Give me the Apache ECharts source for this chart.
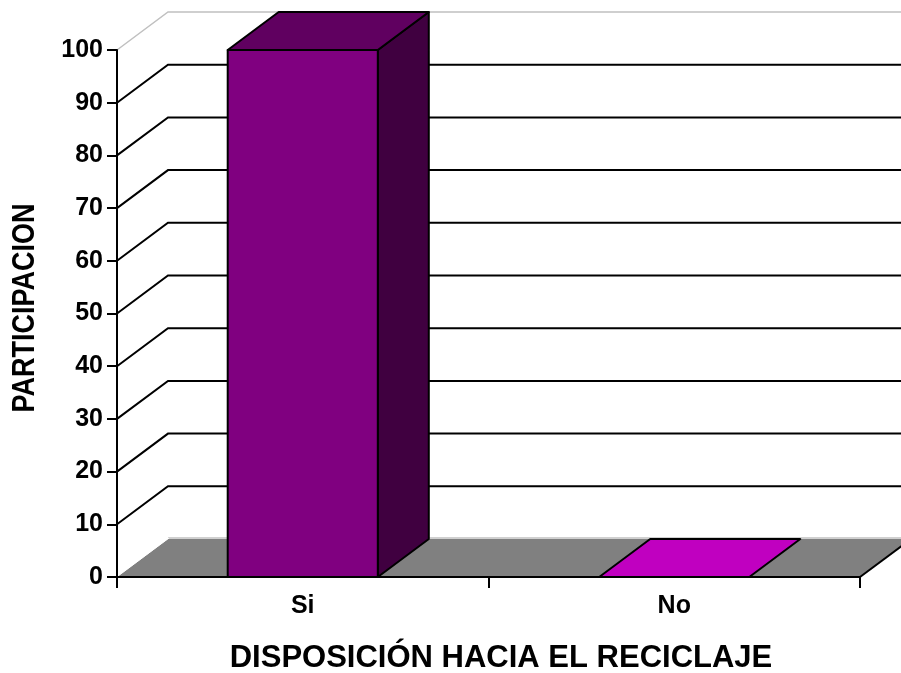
<!DOCTYPE html>
<html>
<head>
<meta charset="utf-8">
<script src="https://cdn.jsdelivr.net/npm/echarts@6/dist/echarts.min.js"></script>
<style>
  html, body { margin: 0; padding: 0; background: #fff; }
  #main { width: 901px; height: 673px; }
</style>
</head>
<body>
<div id="main"></div>
<script>
// datos del grafico
const categories = ['Si', 'No'];
const participacion = [100, 0];
const yTicks = [10, 20, 30, 40, 50, 60, 70, 80, 90];

// colores de cada barra (frente, tapa, lado)
const barColors = [
  { front: '#800080', top: '#600060', side: '#400040' },
  { front: '#c000c0', top: '#c000c0', side: '#900090' }
];
const FONT = '"Liberation Sans", Arial, sans-serif';
const DX = 51, DY = -38; // profundidad 3d

const myChart = echarts.init(document.getElementById('main'));

// lineas de division en pared lateral y fondo
function renderWalls(params, api) {
  const cs = params.coordSys;
  const y = api.coord([0, api.value(1)])[1];
  const gx = cs.x, right = cs.x + cs.width + DX + 20;
  return {
    type: 'polyline',
    shape: { points: [[gx, y], [gx + DX, y + DY], [right, y + DY]] },
    style: { stroke: '#000', lineWidth: 2, fill: null }
  };
}

function renderFloor(params, api) {
  const cs = params.coordSys;
  const top = api.coord([0, 100])[1];
  const by = api.coord([0, 0])[1];
  const gx = cs.x, gr = cs.x + cs.width;
  return {
    type: 'group',
    children: [
      // borde superior de las paredes
      { type: 'polyline', shape: { points: [[gx, top], [gx + DX, top + DY], [gr + DX + 20, top + DY]] },
        style: { stroke: '#c0c0c0', lineWidth: 1.5, fill: null } },
      { type: 'polygon', shape: { points: [[gx, by], [gx + DX, by + DY], [gr + DX, by + DY], [gr, by]] },
        style: { fill: '#808080' } },
      { type: 'line', shape: { x1: gx + DX, y1: by + DY - 1, x2: gr + DX + 20, y2: by + DY - 1 },
        style: { stroke: '#a0a0a0', lineWidth: 1 } },
      { type: 'line', shape: { x1: gx + 1, y1: by - 1, x2: gx + DX + 1, y2: by + DY - 1 },
        style: { stroke: '#ffffff', lineWidth: 1 } },
      { type: 'line', shape: { x1: gr, y1: by, x2: gr + DX, y2: by + DY },
        style: { stroke: '#000', lineWidth: 2 } }
    ]
  };
}

function renderBar(params, api) {
  const c = barColors[params.dataIndex];
  const base = api.coord([api.value(0), 0]);
  const top = api.coord([api.value(0), api.value(1)]);
  const bw = api.size([1, 0])[0] * 0.404;
  const x0 = base[0] - bw / 2, x1 = base[0] + bw / 2;
  const ty = top[1], by = base[1];
  const line = { stroke: '#000', lineWidth: 2, lineJoin: 'round' };
  const children = [];
  if (by - ty > 0.5) {
    children.push({ type: 'polygon', shape: { points: [[x1, ty], [x1 + DX, ty + DY], [x1 + DX, by + DY], [x1, by]] },
      style: Object.assign({ fill: c.side }, line) });
    children.push({ type: 'rect', shape: { x: x0, y: ty, width: bw, height: by - ty },
      style: Object.assign({ fill: c.front }, line) });
  }
  children.push({ type: 'polygon', shape: { points: [[x0, ty], [x1, ty], [x1 + DX, ty + DY], [x0 + DX, ty + DY]] },
    style: Object.assign({ fill: c.top }, line) });
  return { type: 'group', children: children };
}

const option = {
  animation: false,
  backgroundColor: '#fff',
  grid: { left: 117, right: 41, top: 50, bottom: 96 },
  xAxis: {
    type: 'category',
    data: categories,
    z: 10,
    axisLine: { lineStyle: { color: '#000', width: 2 } },
    axisTick: { show: true, length: 11, lineStyle: { color: '#000', width: 2 } },
    axisLabel: { color: '#000', fontSize: 25, fontWeight: 'bold', fontFamily: FONT, margin: 17 }
  },
  yAxis: {
    type: 'value',
    min: 0,
    max: 100,
    interval: 10,
    z: 10,
    splitLine: { show: false },
    axisLine: { show: true, lineStyle: { color: '#000', width: 2 } },
    axisTick: { show: true, length: 10, lineStyle: { color: '#000', width: 2 } },
    axisLabel: { color: '#000', fontSize: 25, fontWeight: 'bold', fontFamily: FONT, margin: 14 }
  },
  graphic: [
    {
      type: 'text', x: 25, y: 308, rotation: Math.PI / 2, scaleY: 1.15,
      style: { text: 'PARTICIPACION', fill: '#000', font: 'bold 27px ' + FONT,
        textAlign: 'center', textVerticalAlign: 'middle' }
    },
    {
      type: 'text', x: 501, y: 658,
      style: { text: 'DISPOSICIÓN HACIA EL RECICLAJE', fill: '#000', font: 'bold 31px ' + FONT,
        textAlign: 'center', textVerticalAlign: 'middle' }
    }
  ],
  series: [
    { type: 'custom', renderItem: renderFloor, data: [[0, 0]], clip: false, silent: true, z: 1 },
    { type: 'custom', renderItem: renderWalls, data: yTicks.map(v => [0, v]), clip: false, silent: true, z: 1 },
    {
      type: 'custom', renderItem: renderBar, clip: false, z: 3,
      data: categories.map((c, i) => [i, participacion[i]])
    }
  ]
};
myChart.setOption(option);
</script>
</body>
</html>
